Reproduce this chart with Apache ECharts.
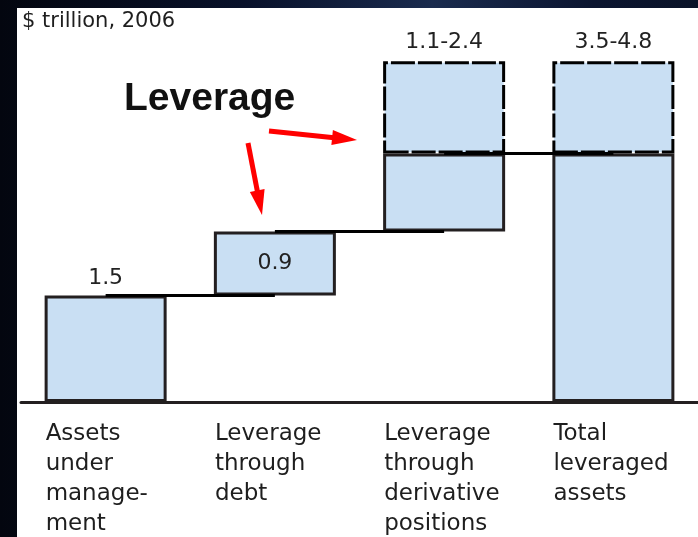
<!DOCTYPE html>
<html>
<head>
<meta charset="utf-8">
<title>Leverage</title>
<script src="https://cdn.jsdelivr.net/npm/echarts@6/dist/echarts.min.js"></script>
<style>
  html, body { margin: 0; padding: 0; }
  body {
    width: 698px; height: 537px; overflow: hidden; position: relative;
    background: linear-gradient(90deg, #03060f 0%, #08112a 35%, #1a2b4e 62%, #0b1530 85%, #0a1328 100%);
  }
  #paper { position: absolute; left: 17px; top: 8px; right: 0; bottom: 0; background: #fff; }
  #box { position: absolute; left: 0; top: 0; width: 698px; height: 537px; }
</style>
</head>
<body>
<div id="paper"></div>
<div id="box"></div>
<script>
// data ($ trillion, 2006)
const categories = [
  'Assets\nunder\nmanage-\nment',
  'Leverage\nthrough\ndebt',
  'Leverage\nthrough\nderivative\npositions',
  'Total\nleveraged\nassets'
];
const baseValues = [0, 1.5, 2.4, 0];       // where each bar starts
const lowValues = [1.5, 0.9, 1.1, 3.5];    // solid part
const highValues = [1.5, 0.9, 2.4, 4.8];   // upper end of the range
const valueLabels = ['1.5', '0.9', '1.1-2.4', '3.5-4.8'];

const fill = '#c9dff3';
const edge = '#231f20';
const font = 'DejaVu Sans';

const myChart = echarts.init(document.getElementById('box'));

// red annotation arrow (shaft + head)
function arrow(x1, y1, x2, y2) {
  const dx = x2 - x1, dy = y2 - y1;
  const len = Math.sqrt(dx * dx + dy * dy);
  const ux = dx / len, uy = dy / len;
  const hl = 25, hw = 7.5;
  const bx = x2 - ux * hl, by = y2 - uy * hl;
  return [
    { type: 'line', shape: { x1: x1, y1: y1, x2: bx + ux * 2, y2: by + uy * 2 }, style: { stroke: '#ff0000', lineWidth: 5 } },
    { type: 'polygon', shape: { points: [[x2, y2], [bx - uy * hw, by + ux * hw], [bx + uy * hw, by - ux * hw]] }, style: { fill: '#ff0000' } }
  ];
}

const dashedValues = highValues.map((h, i) => h - lowValues[i] > 0 ? +(h - lowValues[i]).toFixed(2) : '-');
const connectors = [0, 1, 2].map(i => {
  const level = +(baseValues[i] + lowValues[i]).toFixed(2);
  return [{ coord: [categories[i], level] }, { coord: [categories[i + 1], level] }];
});

const option = {
  animation: false,
  title: [
    {
      text: '$ trillion, 2006', left: 22, top: 11, padding: 0,
      textStyle: { fontFamily: font, fontSize: 21, fontWeight: 'normal', color: '#1e1e1e' }
    },
    {
      text: 'Leverage', left: 124, top: 80, padding: 0,
      textStyle: { fontFamily: 'Liberation Sans', fontSize: 39, fontWeight: 'bold', color: '#111' }
    }
  ],
  graphic: [].concat(arrow(269, 131, 357, 140), arrow(248, 143, 262, 215)),
  grid: { left: 21, right: -3, top: 47, bottom: 135 },
  xAxis: {
    type: 'category',
    data: categories,
    axisTick: { show: false },
    axisLine: { lineStyle: { color: edge, width: 3 } },
    axisLabel: {
      margin: 17,
      formatter: function (v) {
        return v.split('\n').map(l => '{a|' + l + '}').join('\n');
      },
      rich: {
        a: { width: 120, align: 'left', fontFamily: font, fontSize: 23, lineHeight: 30, color: '#1e1e1e' }
      }
    }
  },
  yAxis: { type: 'value', min: 0, max: 5, show: false, splitLine: { show: false } },
  series: [
    {
      name: 'base', type: 'bar', stack: 'a', barWidth: 122,
      itemStyle: { color: 'transparent' },
      data: baseValues
    },
    {
      name: 'low', type: 'bar', stack: 'a', barWidth: 122, z: 4,
      itemStyle: { color: fill, borderColor: edge, borderWidth: 3 },
      data: lowValues.map((v, i) => ({
        value: v,
        label: {
          show: i < 2,
          position: i === 0 ? 'top' : 'inside',
          distance: 6,
          formatter: valueLabels[i],
          fontFamily: font, fontSize: 22, color: '#222'
        }
      })),
      markLine: {
        silent: true, symbol: ['none', 'none'], animation: false,
        label: { show: false },
        lineStyle: { color: '#000', width: 3, type: 'solid' },
        data: connectors
      }
    },
    {
      name: 'range', type: 'bar', stack: 'a', barWidth: 122, z: 3,
      itemStyle: { color: fill, borderColor: '#000', borderWidth: 3, borderType: [24, 3] },
      label: {
        show: true, position: 'top', distance: 8,
        formatter: p => valueLabels[p.dataIndex],
        fontFamily: font, fontSize: 22, color: '#222'
      },
      data: dashedValues
    }
  ]
};
myChart.setOption(option);
window.onresize = function () {
  myChart.resize();
};
</script>
</body>
</html>
